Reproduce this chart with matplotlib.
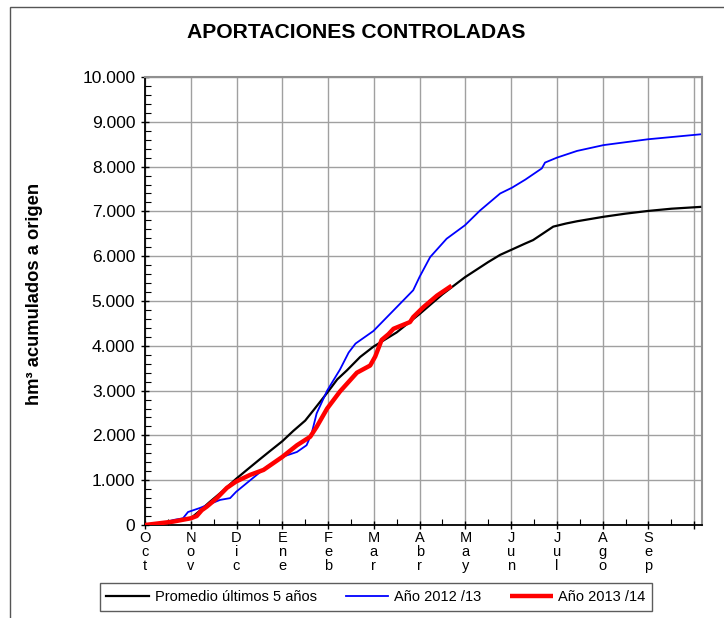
import matplotlib
matplotlib.use("Agg")
import matplotlib.pyplot as plt
from matplotlib.ticker import FuncFormatter, MultipleLocator, FixedLocator
from matplotlib.patches import Rectangle

plt.rcParams['font.family'] = ['Liberation Sans', 'DejaVu Sans']

# months from 1 Oct (0 = Oct, 12 = end Sep)
month_labels = ["Oct", "Nov", "Dic", "Ene", "Feb", "Mar", "Abr", "May", "Jun", "Jul", "Ago", "Sep"]

prom_x = [0, 0.55, 1.0, 1.2, 1.42, 1.7, 1.99, 2.22, 2.5, 2.73, 3.0, 3.24, 3.5, 3.68, 3.98, 4.2, 4.41,
          4.7, 4.99, 5.5, 6.0, 6.5, 6.99, 7.5, 7.76, 8.02, 8.3, 8.48, 8.7, 8.92, 9.2, 9.44, 10.02,
          10.5, 10.99, 11.5, 12.13]
prom_y = [0, 60, 150, 320, 520, 760, 1030, 1225, 1460, 1650, 1870, 2100, 2330, 2560, 2950, 3250, 3450,
          3750, 3980, 4300, 4710, 5150, 5530, 5870, 6030, 6150, 6280, 6360, 6510, 6660, 6730, 6780, 6880,
          6950, 7010, 7060, 7100]

a1213_x = [0, 0.4, 0.61, 0.83, 0.94, 1.2, 1.64, 1.86, 1.99, 2.3, 2.66, 3.0, 3.32, 3.53, 3.64, 3.75,
           3.98, 4.26, 4.45, 4.6, 4.99, 5.43, 5.86, 6.0, 6.23, 6.59, 6.99, 7.32, 7.76, 8.02, 8.31, 8.67,
           8.74, 9.0, 9.44, 10.02, 10.99, 12.13]
a1213_y = [0, 40, 110, 150, 290, 380, 560, 600, 740, 1000, 1300, 1520, 1630, 1780, 2040, 2490,
           3000, 3470, 3850, 4050, 4330, 4790, 5240, 5540, 5980, 6390, 6690, 7020, 7400, 7530, 7710, 7960,
           8090, 8200, 8350, 8480, 8610, 8720]

a1314_x = [0, 0.61, 1.0, 1.13, 1.24, 1.35, 1.57, 1.79, 1.99, 2.3, 2.59, 3.0, 3.32, 3.61, 3.75,
           3.98, 4.26, 4.63, 4.92, 5.03, 5.17, 5.32, 5.43, 5.79, 5.86, 6.08, 6.38, 6.7]
a1314_y = [0, 75, 150, 200, 330, 410, 600, 830, 970, 1120, 1230, 1520, 1780, 1970, 2190,
           2600, 2980, 3400, 3560, 3760, 4130, 4260, 4380, 4530, 4640, 4860, 5120, 5340]

W, H = 724, 618
fig = plt.figure(figsize=(W / 100, H / 100), dpi=100)
ax = fig.add_axes([145 / W, 1 - 525 / H, (702 - 145) / W, (525 - 77) / H])

ax.plot(prom_x, prom_y, color='black', lw=1.6, label='Promedio últimos 5 años', zorder=3)
ax.plot(a1213_x, a1213_y, color='#0000ff', lw=1.3, label='Año 2012 /13', zorder=4)
ax.plot(a1314_x, a1314_y, color='#ff0000', lw=3.2, label='Año 2013 /14', zorder=5, solid_capstyle='butt')

ax.set_xlim(0, 12.17)
ax.set_ylim(0, 10000)

ax.xaxis.set_major_locator(FixedLocator(list(range(0, 13))))
ax.xaxis.set_minor_locator(FixedLocator([i + 0.5 for i in range(12)]))
ax.set_xticklabels(["\n".join(m) for m in month_labels] + [""])
ax.yaxis.set_major_locator(MultipleLocator(1000))
ax.yaxis.set_minor_locator(MultipleLocator(200))
ax.yaxis.set_major_formatter(FuncFormatter(lambda v, p: f"{int(v):,}".replace(",", ".")))

ax.tick_params(axis='y', which='major', direction='inout', length=6, labelsize=12.5, pad=4, width=1)
ax.tick_params(axis='y', which='minor', direction='in', length=4, width=0.8)
ax.tick_params(axis='x', which='major', direction='inout', length=6, labelsize=10.5, pad=1, width=1)
ax.tick_params(axis='x', which='minor', direction='in', length=4, width=0.8)
for lab in ax.get_xticklabels():
    lab.set_linespacing(1.0)

ax.grid(True, which='major', color='#a0a0a0', lw=1.0)
ax.set_axisbelow(True)
for s in ['top', 'right']:
    ax.spines[s].set_color('#909090')
    ax.spines[s].set_linewidth(1.5)
for s in ['left', 'bottom']:
    ax.spines[s].set_color('black')
    ax.spines[s].set_linewidth(1.3)

fig.text(356 / W, 1 - 33 / H, "APORTACIONES CONTROLADAS", ha='center', va='center',
         fontsize=15.2, fontweight='bold')
fig.text(35 / W, 1 - 294 / H, "hm³ acumulados a origen", ha='center', va='center',
         rotation=90, fontsize=13.2, fontweight='bold')

handles, labels = ax.get_legend_handles_labels()
leg = fig.legend(handles, labels, loc='center', bbox_to_anchor=(376 / W, 1 - 597 / H),
                 ncol=3, fontsize=10.5, frameon=True, fancybox=False, handlelength=2.9,
                 handletextpad=0.4, columnspacing=2.0, borderpad=0.45)
leg.get_frame().set_edgecolor('#333333')
leg.get_frame().set_linewidth(1.0)

fig.patches.append(Rectangle((10 / W, -0.1), 1.2, (H - 7) / H + 0.1, transform=fig.transFigure,
                             fill=False, edgecolor='#555555', lw=1.0))

fig.savefig("out.png", dpi=100)
